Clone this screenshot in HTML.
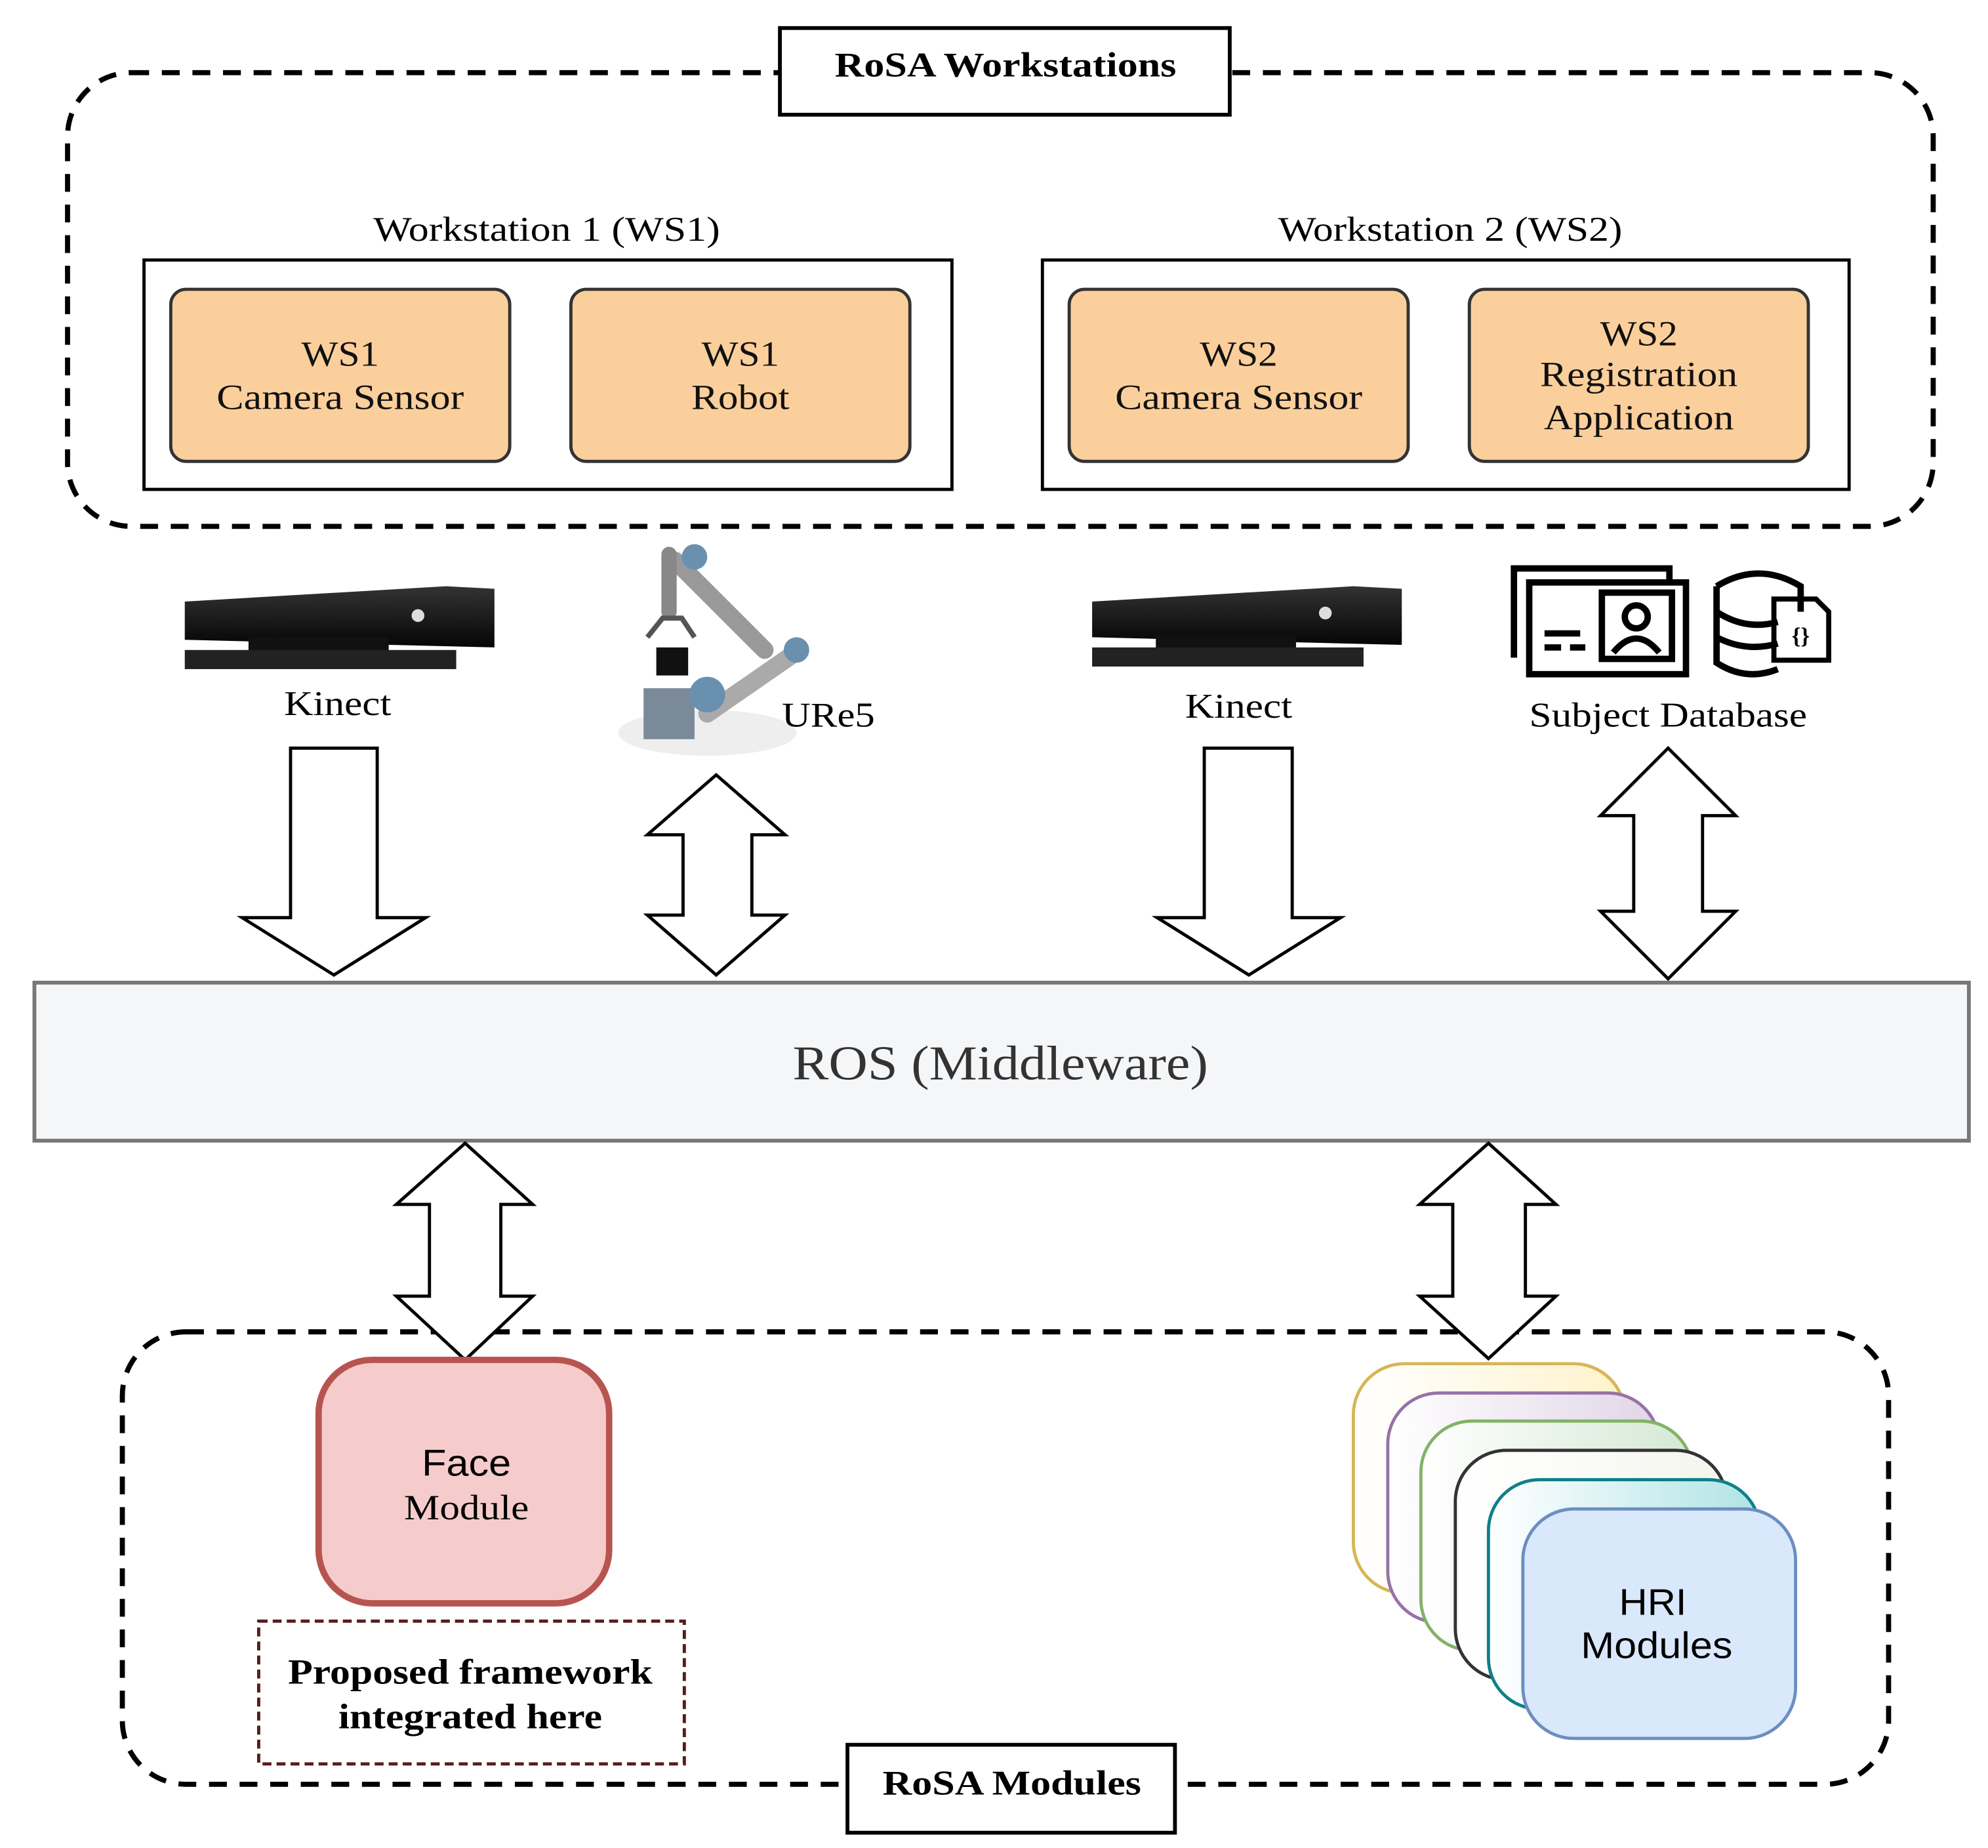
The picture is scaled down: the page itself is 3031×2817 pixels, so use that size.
<!DOCTYPE html>
<html><head><meta charset="utf-8"><style>html,body{margin:0;padding:0;background:#fff}svg{display:block}</style></head>
<body>
<svg width="3031" height="2817" viewBox="0 0 1560 1450" preserveAspectRatio="none" xmlns="http://www.w3.org/2000/svg">
<defs>
<linearGradient id="gy" x1="0" x2="1"><stop offset="0" stop-color="#fff"/><stop offset="1" stop-color="#fff2cc"/></linearGradient>
<linearGradient id="gp" x1="0" x2="1"><stop offset="0" stop-color="#fff"/><stop offset="1" stop-color="#e1d5e7"/></linearGradient>
<linearGradient id="gg" x1="0" x2="1"><stop offset="0" stop-color="#fff"/><stop offset="1" stop-color="#d5e8d4"/></linearGradient>
<linearGradient id="gd" x1="0" x2="1"><stop offset="0" stop-color="#fff"/><stop offset="1" stop-color="#f5f5ee"/></linearGradient>
<linearGradient id="gt" x1="0" x2="1"><stop offset="0" stop-color="#fff"/><stop offset="1" stop-color="#b0e3e6"/></linearGradient>
<linearGradient id="gk" x1="0" y1="0" x2="0" y2="1"><stop offset="0" stop-color="#333"/><stop offset="1" stop-color="#050505"/></linearGradient>
</defs>
<g font-family="Liberation Serif, serif" text-anchor="middle" lengthAdjust="spacingAndGlyphs">
<rect x="53" y="57" width="1464" height="356" rx="50" fill="none" stroke="#000" stroke-width="4" stroke-dasharray="14 10"/>
<rect x="612" y="22" width="353" height="68" fill="#fff" stroke="#000" stroke-width="3"/>
<text x="789" y="60" font-size="27" font-weight="bold" textLength="268" lengthAdjust="spacingAndGlyphs">RoSA Workstations</text>
<text x="429" y="189" font-size="27" textLength="272" lengthAdjust="spacingAndGlyphs">Workstation 1 (WS1)</text>
<text x="1138" y="189" font-size="27" textLength="270" lengthAdjust="spacingAndGlyphs">Workstation 2 (WS2)</text>
<rect x="113" y="204" width="634" height="180" fill="none" stroke="#000" stroke-width="2.5"/>
<rect x="818" y="204" width="633" height="180" fill="none" stroke="#000" stroke-width="2.5"/>
<g fill="#fbcf9c" stroke="#333" stroke-width="2.5">
<rect x="134" y="227" width="266" height="135" rx="12"/>
<rect x="448" y="227" width="266" height="135" rx="12"/>
<rect x="839" y="227" width="266" height="135" rx="12"/>
<rect x="1153" y="227" width="266" height="135" rx="12"/>
</g>
<g font-size="28" fill="#111">
<text x="267" y="287" textLength="61" lengthAdjust="spacingAndGlyphs">WS1</text><text x="267" y="321" textLength="194" lengthAdjust="spacingAndGlyphs">Camera Sensor</text>
<text x="581" y="287" textLength="61" lengthAdjust="spacingAndGlyphs">WS1</text><text x="581" y="321" textLength="77" lengthAdjust="spacingAndGlyphs">Robot</text>
<text x="972" y="287" textLength="61" lengthAdjust="spacingAndGlyphs">WS2</text><text x="972" y="321" textLength="194" lengthAdjust="spacingAndGlyphs">Camera Sensor</text>
<text x="1286" y="271" textLength="61" lengthAdjust="spacingAndGlyphs">WS2</text><text x="1286" y="303" textLength="155" lengthAdjust="spacingAndGlyphs">Registration</text><text x="1286" y="337" textLength="149" lengthAdjust="spacingAndGlyphs">Application</text>
</g>
<g>
<path d="M145 472 L350 460 L388 462 L388 508 L145 502 Z" fill="url(#gk)"/>
<rect x="195" y="500" width="110" height="12" fill="#111"/>
<rect x="145" y="510" width="213" height="15" fill="#222"/>
<circle cx="328" cy="483" r="5" fill="#ddd"/>
<path d="M857 472 L1062 460 L1100 462 L1100 506 L857 500 Z" fill="url(#gk)"/>
<rect x="907" y="498" width="110" height="12" fill="#111"/>
<rect x="857" y="508" width="213" height="15" fill="#222"/>
<circle cx="1040" cy="481" r="5" fill="#ddd"/>
</g>
<text x="265" y="561" font-size="27" textLength="84" lengthAdjust="spacingAndGlyphs">Kinect</text>
<text x="972" y="563" font-size="27" textLength="84" lengthAdjust="spacingAndGlyphs">Kinect</text>
<ellipse cx="555" cy="575" rx="70" ry="18" fill="#eee"/>
<g stroke-linecap="round">
<line x1="530" y1="440" x2="600" y2="510" stroke="#999" stroke-width="14"/>
<line x1="620" y1="515" x2="555" y2="560" stroke="#aaa" stroke-width="14"/>
<line x1="525" y1="435" x2="525" y2="480" stroke="#888" stroke-width="12"/>
</g>
<rect x="505" y="540" width="40" height="40" fill="#7a8a98"/>
<circle cx="555" cy="545" r="14" fill="#6a90b0"/>
<circle cx="625" cy="510" r="10" fill="#6a90b0"/>
<circle cx="545" cy="437" r="10" fill="#6a90b0"/>
<rect x="515" y="508" width="25" height="22" fill="#111"/>
<path d="M508 500 L520 485 L535 485 L545 500" fill="none" stroke="#555" stroke-width="4"/>
<text x="650" y="570" font-size="27" textLength="73" lengthAdjust="spacingAndGlyphs">URe5</text>
<g fill="none" stroke="#000" stroke-width="5">
<path d="M1188 516 L1188 446 L1310 446 L1310 455"/>
<rect x="1200" y="457" width="123" height="72"/>
<rect x="1257" y="465" width="55" height="52"/>
<circle cx="1284" cy="484" r="9"/>
<path d="M1266 512 Q1284 490 1302 512"/>
<line x1="1212" y1="497" x2="1240" y2="497"/><line x1="1212" y1="508" x2="1225" y2="508"/><line x1="1232" y1="508" x2="1244" y2="508"/>
<path d="M1347 460 Q1380 440 1413 460 L1413 480 M1347 460 L1347 520 Q1370 535 1395 525 M1347 480 Q1370 495 1395 488 M1347 500 Q1370 512 1395 505"/>
<path d="M1392 470 L1425 470 L1435 480 L1435 518 L1392 518 Z" stroke-width="4"/>
</g>
<text x="1413" y="505" font-size="18" font-weight="bold">{}</text>
<text x="1309" y="570" font-size="27" textLength="218" lengthAdjust="spacingAndGlyphs">Subject Database</text>
<g fill="#fff" stroke="#000" stroke-width="2.5">
<path d="M228 587 L296 587 L296 720 L334 720 L262 765 L190 720 L228 720 Z"/>
<path d="M945 587 L1014 587 L1014 720 L1052 720 L980 765 L908 720 L945 720 Z"/>
<path d="M562 608 L616 655 L590 655 L590 718 L616 718 L562 765 L508 718 L536 718 L536 655 L508 655 Z"/>
<path d="M1309 587 L1362 640 L1336 640 L1336 715 L1362 715 L1309 768 L1256 715 L1282 715 L1282 640 L1256 640 Z"/>
</g>
<rect x="27" y="771" width="1518" height="124" fill="#f5f6f8" stroke="#777" stroke-width="3"/>
<text x="785" y="847" font-size="38" fill="#333" textLength="326" lengthAdjust="spacingAndGlyphs">ROS (Middleware)</text>
<rect x="96" y="1045" width="1386" height="355" rx="50" fill="none" stroke="#000" stroke-width="4" stroke-dasharray="14 10"/>
<g fill="#fff" stroke="#000" stroke-width="2.5">
<path d="M365 897 L418 945 L393 945 L393 1017 L418 1017 L365 1067 L311 1017 L337 1017 L337 945 L311 945 Z"/>
<path d="M1168 897 L1221 945 L1197 945 L1197 1017 L1221 1017 L1168 1066 L1114 1017 L1140 1017 L1140 945 L1114 945 Z"/>
</g>
<rect x="250" y="1067" width="228" height="191" rx="42" fill="#f5cccb" stroke="#b85450" stroke-width="5"/>
<text x="366" y="1158" font-size="29" font-family="Liberation Sans, sans-serif" textLength="70" lengthAdjust="spacingAndGlyphs">Face</text>
<text x="366" y="1192" font-size="28" textLength="98" lengthAdjust="spacingAndGlyphs">Module</text>
<rect x="203" y="1272" width="334" height="112" fill="#fff" stroke="#5a1a1a" stroke-width="2.5" stroke-dasharray="7 4"/>
<text x="369" y="1321" font-size="28" font-weight="bold" textLength="286" lengthAdjust="spacingAndGlyphs">Proposed framework</text>
<text x="369" y="1356" font-size="28" font-weight="bold" textLength="207" lengthAdjust="spacingAndGlyphs">integrated here</text>
<rect x="665" y="1369" width="257" height="69" fill="#fff" stroke="#000" stroke-width="3"/>
<text x="794" y="1408" font-size="27" font-weight="bold" textLength="203" lengthAdjust="spacingAndGlyphs">RoSA Modules</text>
<rect x="1062" y="1070" width="213" height="180" rx="40" fill="url(#gy)" stroke="#d6b656" stroke-width="2.5"/>
<rect x="1089" y="1093" width="213" height="180" rx="40" fill="url(#gp)" stroke="#9673a6" stroke-width="2.5"/>
<rect x="1115" y="1115" width="213" height="180" rx="40" fill="url(#gg)" stroke="#82b366" stroke-width="2.5"/>
<rect x="1142" y="1138" width="213" height="180" rx="40" fill="url(#gd)" stroke="#333" stroke-width="2.5"/>
<rect x="1168" y="1161" width="213" height="180" rx="40" fill="url(#gt)" stroke="#0e8088" stroke-width="2.5"/>
<rect x="1195" y="1184" width="214" height="180" rx="40" fill="#dae8fc" stroke="#6c8ebf" stroke-width="2.5"/>
<text x="1297" y="1267" font-size="29" font-family="Liberation Sans, sans-serif" textLength="53" lengthAdjust="spacingAndGlyphs">HRI</text>
<text x="1300" y="1301" font-size="29" font-family="Liberation Sans, sans-serif" textLength="119" lengthAdjust="spacingAndGlyphs">Modules</text>
</g>
</svg>
</body></html>
